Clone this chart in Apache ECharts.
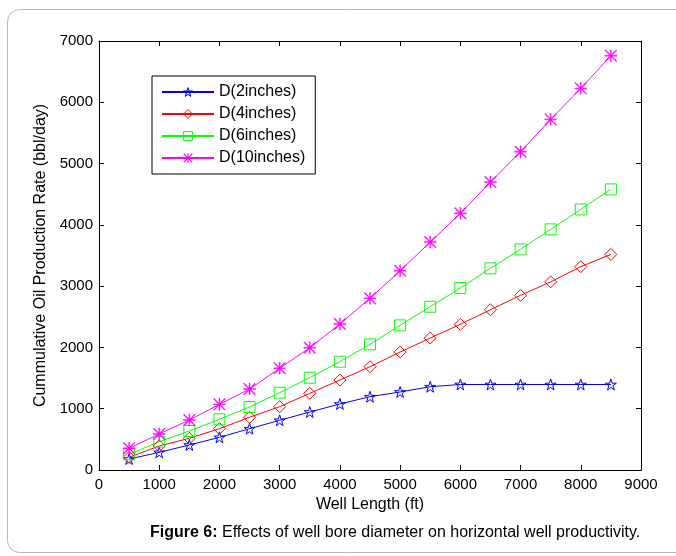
<!DOCTYPE html>
<html>
<head>
<meta charset="utf-8">
<script src="https://cdn.jsdelivr.net/npm/echarts@6/dist/echarts.min.js"></script>
<style>html,body{margin:0;padding:0;background:#fff}#c{width:676px;height:556px}</style>
</head>
<body>
<div id="c"></div>
<script>
const wellLength = [500,1000,1500,2000,2500,3000,3500,4000,4500,5000,5500,6000,6500,7000,7500,8000,8500];
const d2 = [179,288,408,533,674,811,946,1077,1196,1273,1359,1395,1395,1395,1395,1395,1395];
const d4 = [207,392,517,674,860,1033,1251,1468,1685,1925,2153,2377,2615,2850,3070,3317,3518];
const d6 = [256,462,636,827,1028,1261,1506,1767,2050,2360,2664,2969,3290,3600,3926,4252,4579];
const d10 = [354,587,816,1071,1321,1660,1995,2382,2801,3250,3720,4188,4698,5193,5721,6227,6759];
const seriesNames = ['D(2inches)','D(4inches)','D(6inches)','D(10inches)'];
const seriesColors = ['#0000ff','#ff0000','#00ff00','#ff00ff'];
const xTicks = [0,1000,2000,3000,4000,5000,6000,7000,8000,9000];

const starPath = 'path://M100,0 L122.45,69.1 L195.1,69.1 L136.3,111.8 L158.8,180.9 L100,138.2 L41.2,180.9 L63.7,111.8 L4.9,69.1 L77.55,69.1 Z';
const asteriskPath = 'path://M0,46 L100,46 L100,54 L0,54 Z M46,0 L54,0 L54,100 L46,100 Z M6,0 L100,94 L94,100 L0,6 Z M94,0 L100,6 L6,100 L0,94 Z';
const symbols = [starPath, 'diamond', 'rect', asteriskPath];
const sizes = [11, 12, 11, 12];
const fills = ['rgba(255,255,255,0)','rgba(255,255,255,0)','rgba(255,255,255,0)','#ff00ff'];
const borders = [1, 1, 1, 0.4];
const allData = [d2, d4, d6, d10];

const font = 'Liberation Sans, Arial, sans-serif';
const chart = echarts.init(document.getElementById('c'));
chart.setOption({
  animation: false,
  textStyle: {fontFamily: font},
  graphic: [{
    type: 'rect', shape: {x: 7.5, y: 9.5, width: 720, height: 543, r: 12},
    style: {fill: 'none', stroke: '#b8b8b8', lineWidth: 1}, z: -1
  }],
  title: {
    text: '{b|Figure 6:} Effects of well bore diameter on horizontal well productivity.',
    left: 145, top: 520,
    textStyle: {fontFamily: font, fontSize: 16, fontWeight: 'normal', color: '#000',
      rich: {b: {fontFamily: font, fontSize: 16, fontWeight: 'bold', color: '#000'}}}
  },
  legend: {
    left: 152, top: 76, orient: 'vertical',
    borderColor: '#000', borderWidth: 1, borderRadius: 0,
    backgroundColor: '#fff',
    padding: [8, 10, 8, 9], itemGap: 6, itemWidth: 52, itemHeight: 11,
    textStyle: {fontFamily: font, fontSize: 16, color: '#000'},
    data: seriesNames.map((n, i) => ({
      name: n,
      itemStyle: {color: fills[i], borderColor: seriesColors[i], borderWidth: borders[i]}
    }))
  },
  grid: {left: 99, right: 35, top: 41, bottom: 86, show: false},
  xAxis: [{
    type: 'value', min: 0, max: 9000, interval: 1000,
    name: 'Well Length (ft)', nameLocation: 'middle', nameGap: 27,
    nameTextStyle: {fontFamily: font, fontSize: 16, color: '#000'},
    axisLine: {onZero: false, lineStyle: {color: '#000', width: 1}},
    axisTick: {inside: true, length: 5, lineStyle: {color: '#000'}},
    axisLabel: {color: '#000', fontSize: 15, margin: 7, fontFamily: font,
      formatter: v => xTicks.includes(v) ? String(v) : ''},
    splitLine: {show: false}
  }, {
    type: 'value', min: 0, max: 9000, interval: 1000, position: 'top',
    axisLine: {onZero: false, lineStyle: {color: '#000', width: 1}},
    axisTick: {inside: true, length: 5, lineStyle: {color: '#000'}},
    axisLabel: {show: false}, splitLine: {show: false}
  }],
  yAxis: [{
    type: 'value', min: 0, max: 7000, interval: 1000, position: 'left',
    name: 'Cummulative Oil Production Rate (bbl/day)', nameLocation: 'middle', nameGap: 50,
    nameTextStyle: {fontFamily: font, fontSize: 16, color: '#000'},
    axisLine: {show: true, onZero: false, lineStyle: {color: '#000', width: 1}},
    axisTick: {show: true, inside: true, length: 5, lineStyle: {color: '#000'}},
    axisLabel: {color: '#000', fontSize: 15, margin: 6, fontFamily: font,
      formatter: v => String(v)},
    splitLine: {show: false}
  }, {
    type: 'value', min: 0, max: 7000, interval: 1000, position: 'right',
    axisLine: {show: true, onZero: false, lineStyle: {color: '#000', width: 1}},
    axisTick: {show: true, inside: true, length: 5, lineStyle: {color: '#000'}},
    axisLabel: {show: false}, splitLine: {show: false}
  }],
  series: seriesNames.map((n, i) => ({
    name: n, type: 'line',
    data: wellLength.map((x, j) => [x, allData[i][j]]),
    symbol: symbols[i], symbolSize: sizes[i], showAllSymbol: true,
    lineStyle: {color: seriesColors[i], width: 1},
    itemStyle: {color: fills[i], borderColor: seriesColors[i], borderWidth: borders[i]},
    emphasis: {disabled: true}
  }))
});
</script>
</body>
</html>
